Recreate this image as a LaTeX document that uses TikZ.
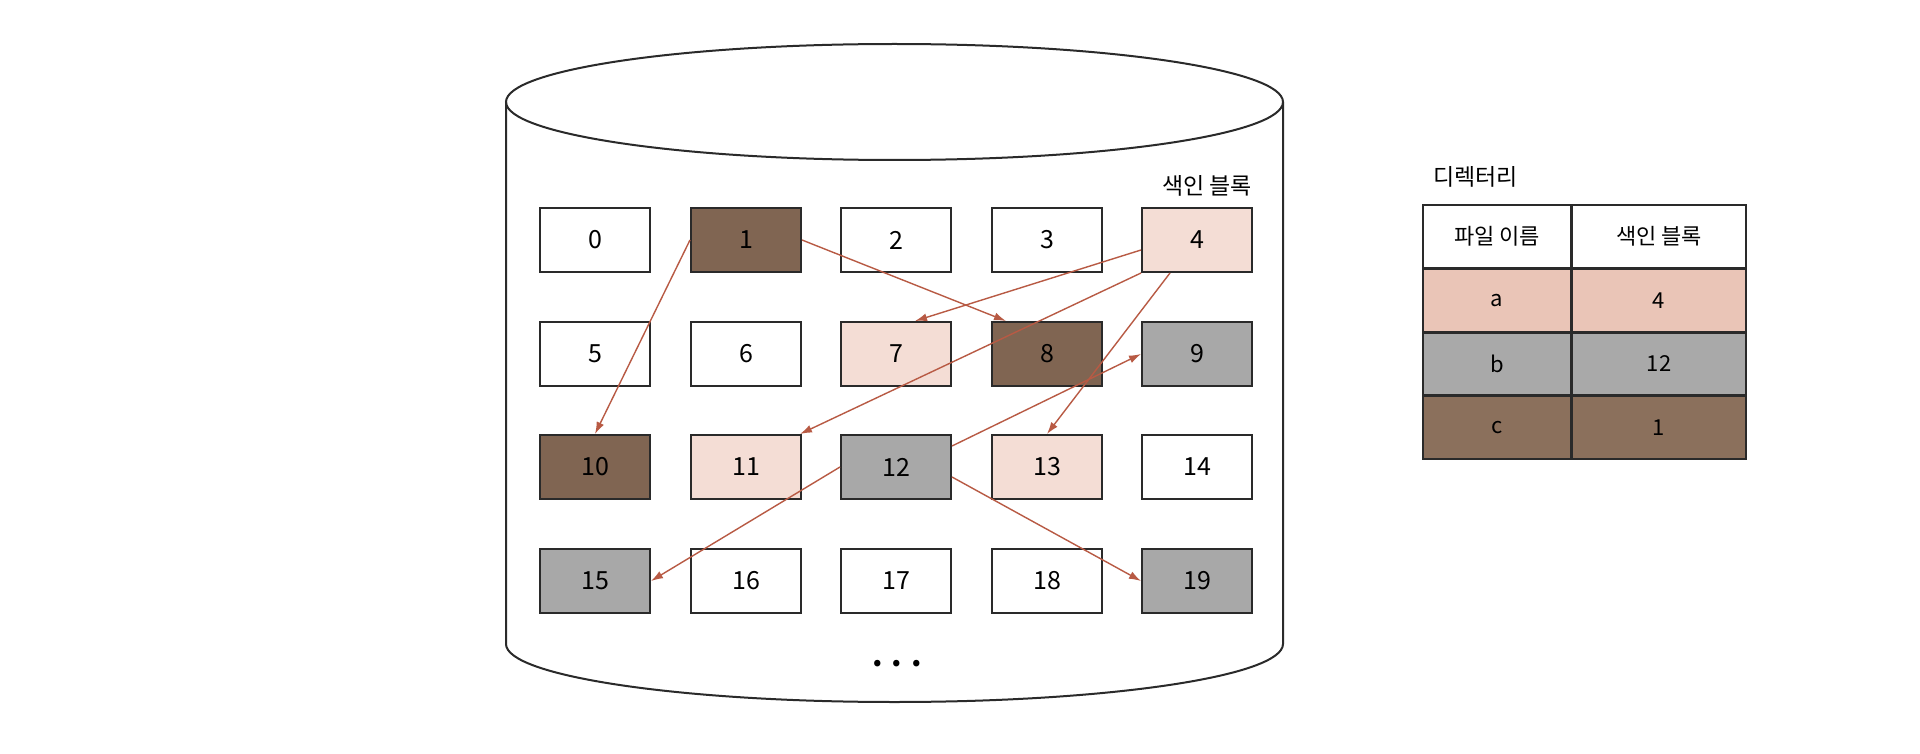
\documentclass[tikz,border=0pt]{standalone}
\usepackage{fontspec}
\setmainfont{Noto Sans CJK KR}
\usetikzlibrary{arrows.meta}
\definecolor{brownfill}{HTML}{806552}
\definecolor{pinkfill}{HTML}{F4DDD5}
\definecolor{grayfill}{HTML}{A8A8A8}
\definecolor{arrowred}{HTML}{B85A44}
\definecolor{tpink}{HTML}{EAC5B7}
\definecolor{tgray}{HTML}{A9A9A9}
\definecolor{tbrown}{HTML}{8B705C}
\definecolor{linec}{HTML}{2A2A2A}
\begin{document}
\begin{tikzpicture}[x=1pt,y=-1pt,
  blk/.style={draw=linec, line width=2pt, minimum width=110pt, minimum height=64pt, inner sep=0pt, font=\fontsize{25}{28}\selectfont},
  bw/.style={blk, fill=white},
  bbrown/.style={blk, fill=brownfill},
  bpink/.style={blk, fill=pinkfill},
  bgray/.style={blk, fill=grayfill},
  ptr/.style={draw=arrowred, line width=1.4pt, -{Latex[length=12pt,width=8pt]}},
  cyl/.style={draw=linec, line width=2pt},
  cell/.style={draw=linec, line width=2.2pt, minimum width=148pt, minimum height=63pt, inner sep=0pt, font=\fontsize{22}{25}\selectfont},
  klabel/.style={font=\fontsize{23}{26}\selectfont, inner sep=0pt}
]
\useasboundingbox (0,0) rectangle (1920,754);
\fill[white] (0,0) rectangle (1920,754);
% cylinder
\draw[cyl] (506,102) -- (506,644) arc[start angle=180, end angle=0, x radius=388.5, y radius=58] -- (1283,102);
\draw[cyl] (894.5,102) ellipse[x radius=388.5, y radius=58];
% blocks
\node[bw]     (b0)  at (595,240) {0};
\node[bbrown] (b1)  at (746,240) {1};
\node[bw]     (b2)  at (896,240) {2};
\node[bw]     (b3)  at (1047,240) {3};
\node[bpink]  (b4)  at (1197,240) {4};
\node[bw]     (b5)  at (595,354) {5};
\node[bw]     (b6)  at (746,354) {6};
\node[bpink]  (b7)  at (896,354) {7};
\node[bbrown] (b8)  at (1047,354) {8};
\node[bgray]  (b9)  at (1197,354) {9};
\node[bbrown] (b10) at (595,467) {10};
\node[bpink]  (b11) at (746,467) {11};
\node[bgray]  (b12) at (896,467) {12};
\node[bpink]  (b13) at (1047,467) {13};
\node[bw]     (b14) at (1197,467) {14};
\node[bgray]  (b15) at (595,581) {15};
\node[bw]     (b16) at (746,581) {16};
\node[bw]     (b17) at (896,581) {17};
\node[bw]     (b18) at (1047,581) {18};
\node[bgray]  (b19) at (1197,581) {19};
\node[klabel, anchor=east] (idxlbl) at (1252,186) {색인 블록};
\node[font=\fontsize{30}{32}\selectfont\bfseries, inner sep=0pt] (dots) at (897,664) {. . .};
% pointers
\draw[ptr] (b1.west) -- (b10.north);
\draw[ptr] (b1.east) -- ([xshift=15pt]b8.north west);
\draw[ptr] ([yshift=-10pt]b4.west) -- ([xshift=19pt]b7.north);
\draw[ptr] (b4.south west) -- ([xshift=-2pt]b11.north east);
\draw[ptr] ([xshift=-27pt]b4.south) -- (b13.north);
\draw[ptr] ([yshift=-12pt]b12.north east) -- (b9.west);
\draw[ptr] (b12.west) -- (b15.east);
\draw[ptr] ([yshift=-10pt]b12.east) -- (b19.west);
% directory table
\node[klabel, anchor=west] (dirlbl) at (1433,177) {디렉터리};
\node[cell, fill=white, minimum width=148pt] (h1) at (1497,236.5) {파일 이름};
\node[cell, fill=white, minimum width=174pt] (h2) at (1659,236.5) {색인 블록};
\node[cell, fill=tpink] (a1) at (1497,300.5) {a};
\node[cell, fill=tpink, minimum width=174pt] (a2) at (1659,300.5) {4};
\node[cell, fill=tgray] (r1) at (1497,364) {b};
\node[cell, fill=tgray, minimum width=174pt] (r2) at (1659,364) {12};
\node[cell, fill=tbrown] (c1) at (1497,427.5) {c};
\node[cell, fill=tbrown, minimum width=174pt] (c2) at (1659,427.5) {1};
\end{tikzpicture}
\end{document}
